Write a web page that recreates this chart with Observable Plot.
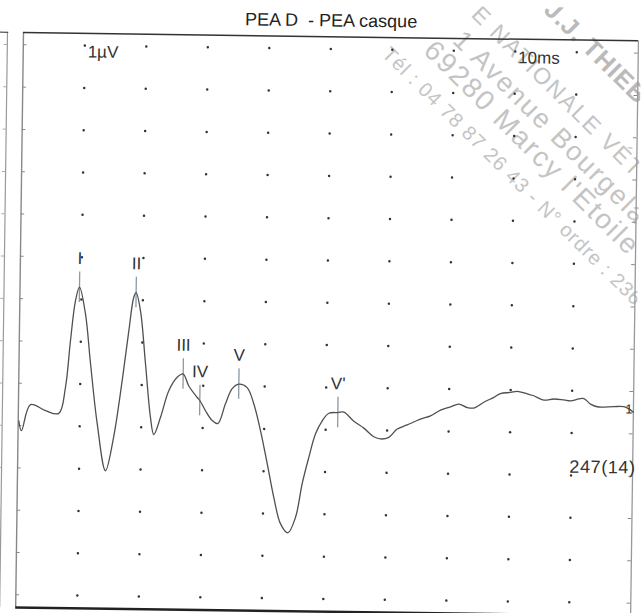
<!DOCTYPE html>
<html><head><meta charset="utf-8">
<script src="https://cdn.jsdelivr.net/npm/d3@7"></script>
<script src="https://cdn.jsdelivr.net/npm/@observablehq/plot@0.6"></script>
<style>
html,body{margin:0;padding:0;background:#fff;overflow:hidden;width:641px;height:613px}
#chart svg{display:block;transform:rotate(0.78deg);transform-origin:23px 32px;}
</style></head><body><div id="chart"></div>
<script>
// ---- data (time in ms, amplitude in grid divisions) ----
const title = "PEA D\u00a0 - PEA casque";
const traceTime = [0.01,0.055,0.196,0.441,0.658,0.761,0.832,0.905,0.967,1.070,1.163,1.285,1.430,1.553,1.681,1.779,1.852,1.889,1.964,2.057,2.150,2.208,2.313,2.442,2.575,2.672,2.766,2.906,2.948,3.043,3.154,3.246,3.366,3.472,3.579,3.715,3.826,3.941,4.058,4.173,4.288,4.408,4.530,4.631,4.733,4.837,4.943,5.049,5.195,5.293,5.457,5.621,5.785,5.894,6.029,6.164,6.325,6.541,6.703,6.864,7.026,7.159,7.297,7.405,7.566,7.728,7.836,7.998,8.107,8.270,8.377,8.541,8.704,8.867,8.976,9.111,9.192,9.301,9.411,9.681,9.844,9.925,10.0];
const traceAmp = [4.11,3.88,4.50,4.36,4.30,4.92,6.02,6.97,7.29,6.66,5.49,4.07,2.96,3.74,5.09,6.28,7.07,7.18,6.75,5.50,4.23,3.83,4.24,4.87,5.19,5.27,4.99,4.72,4.65,4.41,4.18,4.11,4.58,4.94,5.05,4.97,4.59,3.96,3.18,2.38,1.76,1.55,1.92,2.72,3.34,3.90,4.21,4.39,4.41,4.42,4.21,4.05,3.85,3.80,3.84,4.04,4.14,4.28,4.36,4.50,4.58,4.65,4.57,4.56,4.70,4.82,4.91,4.94,4.97,4.91,4.87,4.77,4.80,4.78,4.76,4.81,4.82,4.69,4.63,4.64,4.64,4.59,4.51];
const peakLabels = ["I","II","III","IV","V","V'"];
const peakTimes = [0.967,1.889,2.672,2.948,3.579,5.195];
const peakAmps = [7.29,7.18,5.27,4.65,5.05,4.41];
const gridCols = [1,2,3,4,5,6,7,8,9];
const gridRows = [0,1,2,3,4,5,6,7,8,9,10,11,12,13];
const scaleLabels = ["1µV","10ms"];
const countLabel = "247(14)";
const traceLabel = "1";
const stampLines = ["J.J. THIEB","E NATIONALE VÉT","1 Avenue Bourgelat","69280 Marcy l'Etoile","Tél : 04 78 87 26 43 - N° ordre : 236"];

// ---- layout of the faint rubber stamp (annotation, not data) ----
const stampAnchorX = [8.53, 7.345, 7.057, 6.589, 5.89];
const stampAnchorY = [14.095, 13.954, 13.357, 13.111, 12.979];
const stampSize = [25, 23, 27, 28, 20];
const stampSpacing = [1, 2, 2, 2, 1];

// ---- derived tables ----
const trace = traceTime.map((t, i) => ({t, a: traceAmp[i]}));
const peaks = peakLabels.map((label, i) => ({label, t: peakTimes[i], a: peakAmps[i]}));
const grid = gridRows.flatMap(r => gridCols.map(c => ({c, r})));
const yBottom = -0.30, yTop = 13.29;
const markerHalf = 0.36;

const stampMarks = stampLines.map((text, i) =>
  Plot.text([text], {x: stampAnchorX[i], y: stampAnchorY[i], text: d => d, rotate: 44, textAnchor: "start", lineAnchor: "middle",
    fontSize: stampSize[i], fontWeight: i === 0 ? "bold" : "normal", fill: i === 0 ? "#bababa" : "#c4c4c4"}));

const font = "'Liberation Sans', Arial, Helvetica, sans-serif";
const svg = Plot.plot({
  width: 641, height: 613,
  marginLeft: 23, marginRight: 3, marginTop: 32, marginBottom: 6,
  x: {domain: [0, 10], axis: null},
  y: {domain: [yBottom, yTop], axis: null},
  style: {fontFamily: font, background: "#fff", color: "#333", overflow: "hidden"},
  marks: [
    ...stampMarks,
    Plot.dot(grid, {x: "c", y: "r", r: 1.25, fill: "#333", stroke: null}),
    Plot.ruleY(gridRows, {x1: 0, x2: 0.06, stroke: "#888"}),
    Plot.ruleY(gridRows, {x1: 9.94, x2: 10, stroke: "#888"}),
    Plot.ruleX([-0.26], {y1: yBottom, y2: yTop, stroke: "#999", strokeWidth: 1.2}),
    Plot.ruleY(gridRows, {x1: -0.31, x2: -0.26, stroke: "#aaa"}),
    Plot.ruleY([yTop], {x1: -0.4, x2: -0.24, stroke: "#555", strokeWidth: 1.2}),
    Plot.ruleX([0], {y1: yBottom, y2: yTop, stroke: "#888", strokeWidth: 1.4}),
    Plot.ruleX([10], {y1: yBottom, y2: yTop, stroke: "#999", strokeWidth: 1.3}),
    Plot.ruleY([yTop], {x1: 0, x2: 10, stroke: "#333", strokeWidth: 1.5}),
    Plot.ruleY([yBottom], {x1: 0, x2: 10, stroke: "#222", strokeWidth: 2.5}),
    Plot.ruleX(peaks, {x: "t", y1: d => d.a - markerHalf, y2: d => d.a + markerHalf, stroke: "#8c99a3", strokeWidth: 1.3}),
    Plot.line(trace, {x: "t", y: "a", stroke: "#505050", strokeWidth: 1.3, curve: "catmull-rom"}),
    Plot.text(peaks, {x: "t", y: d => d.a + markerHalf, text: "label", lineAnchor: "bottom", dy: -8, fontSize: 17, fill: "#333"}),
    Plot.text([scaleLabels[0]], {x: 1, y: 12.85, text: d => d, textAnchor: "start", lineAnchor: "middle", dx: 3, fontSize: 17, fill: "#333"}),
    Plot.text([scaleLabels[1]], {x: 8, y: 12.85, text: d => d, textAnchor: "start", lineAnchor: "middle", dx: 3, fontSize: 17, fill: "#333"}),
    Plot.text([countLabel], {x: 10, y: 3.2, text: d => d, textAnchor: "end", lineAnchor: "middle", dx: 3, fontSize: 18, fill: "#333"}),
    Plot.text([traceLabel], {x: 10, y: traceAmp[traceAmp.length - 1], text: d => d, textAnchor: "end", lineAnchor: "middle", dx: -1, dy: -3, fontSize: 13, fill: "#333"}),
    Plot.text([title], {frameAnchor: "top", text: d => d, dy: -16, lineAnchor: "middle", fontSize: 18, fill: "#222"})
  ]
});
svg.querySelectorAll("text").forEach(el => {
  const i = stampLines.indexOf(el.textContent);
  if (i >= 0) el.style.letterSpacing = stampSpacing[i] + "px";
  if (el.textContent === countLabel) el.style.letterSpacing = "0.6px";
});
document.getElementById("chart").append(svg);
</script></body></html>
